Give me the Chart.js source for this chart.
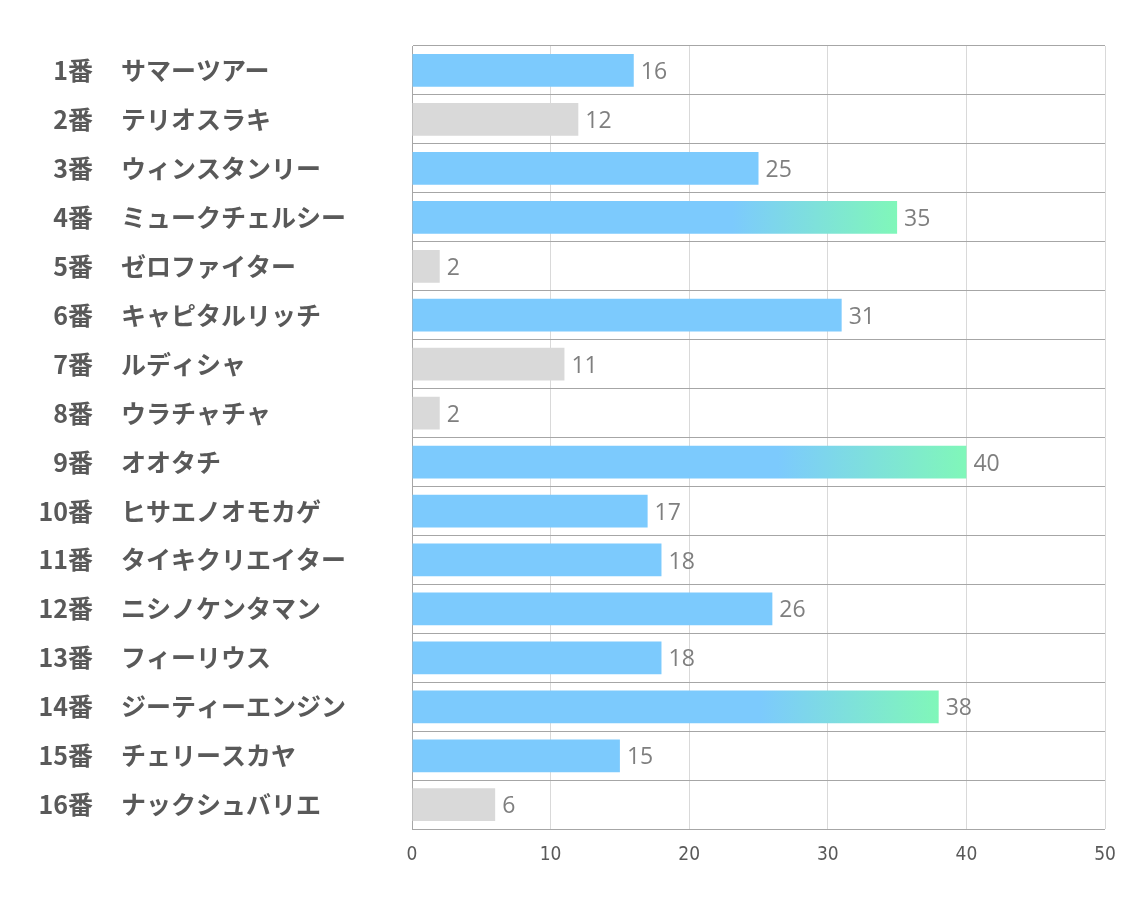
<!DOCTYPE html>
<html lang="ja">
<head>
    <meta charset="UTF-8">
    <title>Horse chart</title>
    <script src="https://cdn.jsdelivr.net/npm/chart.js"></script>
    <style>
        body { margin: 0; background: #ffffff; }
        #wrap { width: 1134px; height: 907px; }
    </style>
</head>
<body>
    <div id="wrap"><canvas id="chart"></canvas></div>

    <script>
        // data
        const numbers = ['1番', '2番', '3番', '4番', '5番', '6番', '7番', '8番',
                         '9番', '10番', '11番', '12番', '13番', '14番', '15番', '16番'];
        const names = ['サマーツアー', 'テリオスラキ', 'ウィンスタンリー', 'ミュークチェルシー',
                       'ゼロファイター', 'キャピタルリッチ', 'ルディシャ', 'ウラチャチャ',
                       'オオタチ', 'ヒサエノオモカゲ', 'タイキクリエイター', 'ニシノケンタマン',
                       'フィーリウス', 'ジーティーエンジン', 'チェリースカヤ', 'ナックシュバリエ'];
        const values = [16, 12, 25, 35, 2, 31, 11, 2, 40, 17, 18, 26, 18, 38, 15, 6];
        const xTicks = [0, 10, 20, 30, 40, 50];

        // bar kind per horse: b = blue, g = gray, t = top (gradient)
        const kinds = ['b', 'g', 'b', 't', 'g', 'b', 'g', 'g', 't', 'b', 'b', 'b', 'b', 't', 'b', 'g'];

        const BLUE = '#7ccafd';
        const GREEN = '#80f7b9';
        const GRAY = '#d9d9d9';

        function barColor(context) {
            const i = context.dataIndex;
            const kind = kinds[i];
            if (kind === 'g') return GRAY;
            if (kind === 'b') return BLUE;
            const chart = context.chart;
            if (!chart.chartArea) return BLUE;
            const xs = chart.scales.x;
            const x0 = xs.getPixelForValue(0);
            const x1 = xs.getPixelForValue(values[i]);
            const g = chart.ctx.createLinearGradient(x0, 0, x1, 0);
            g.addColorStop(0, BLUE);
            g.addColorStop(0.66, BLUE);
            g.addColorStop(1, GREEN);
            return g;
        }

        // value labels at the end of each bar
        const valueLabels = {
            id: 'valueLabels',
            afterDatasetsDraw(chart) {
                const ctx = chart.ctx;
                const meta = chart.getDatasetMeta(0);
                ctx.save();
                ctx.font = '23px "Open Sans", "Noto Sans", sans-serif';
                ctx.fillStyle = '#7f7f7f';
                ctx.textAlign = 'left';
                ctx.textBaseline = 'middle';
                meta.data.forEach((bar, i) => {
                    ctx.fillText(String(values[i]), bar.x + 7, bar.y + 2);
                });
                ctx.restore();
            }
        };

        const labelFont = { family: '"Noto Sans CJK JP", sans-serif', size: 25, weight: 'bold' };

        new Chart(document.getElementById('chart'), {
            type: 'bar',
            data: {
                labels: names,
                datasets: [{
                    data: values,
                    backgroundColor: barColor,
                    borderWidth: 0,
                    categoryPercentage: 1,
                    barPercentage: 0.67
                }]
            },
            options: {
                indexAxis: 'y',
                responsive: true,
                maintainAspectRatio: false,
                animation: false,
                layout: { padding: { top: 46, right: 29, bottom: 27, left: 0 } },
                plugins: {
                    legend: { display: false },
                    tooltip: { enabled: false }
                },
                scales: {
                    x: {
                        min: 0,
                        max: 50,
                        afterBuildTicks: (scale) => { scale.ticks = xTicks.map(v => ({ value: v })); },
                        grid: { color: '#d9d9d9', drawTicks: false },
                        border: { display: false },
                        ticks: {
                            padding: 14,
                            color: '#595959',
                            font: { family: '"Liberation Sans Narrow", "DejaVu Sans Condensed", sans-serif', size: 19 }
                        }
                    },
                    y: {
                        position: 'left',
                        weight: 0,
                        offset: true,
                        grid: { color: '#a6a6a6', drawTicks: false, offset: true },
                        border: { color: '#a6a6a6' },
                        afterFit: (scale) => { scale.width = 291; },
                        ticks: {
                            crossAlign: 'far',
                            padding: 0,
                            color: '#595959',
                            font: labelFont
                        }
                    },
                    num: {
                        type: 'category',
                        labels: numbers,
                        position: 'left',
                        weight: 10,
                        offset: true,
                        grid: { display: false, drawTicks: false },
                        border: { display: false },
                        afterFit: (scale) => { scale.width = 121; },
                        ticks: {
                            padding: 28,
                            color: '#595959',
                            font: labelFont
                        }
                    }
                }
            },
            plugins: [valueLabels]
        });
    </script>
</body>
</html>
